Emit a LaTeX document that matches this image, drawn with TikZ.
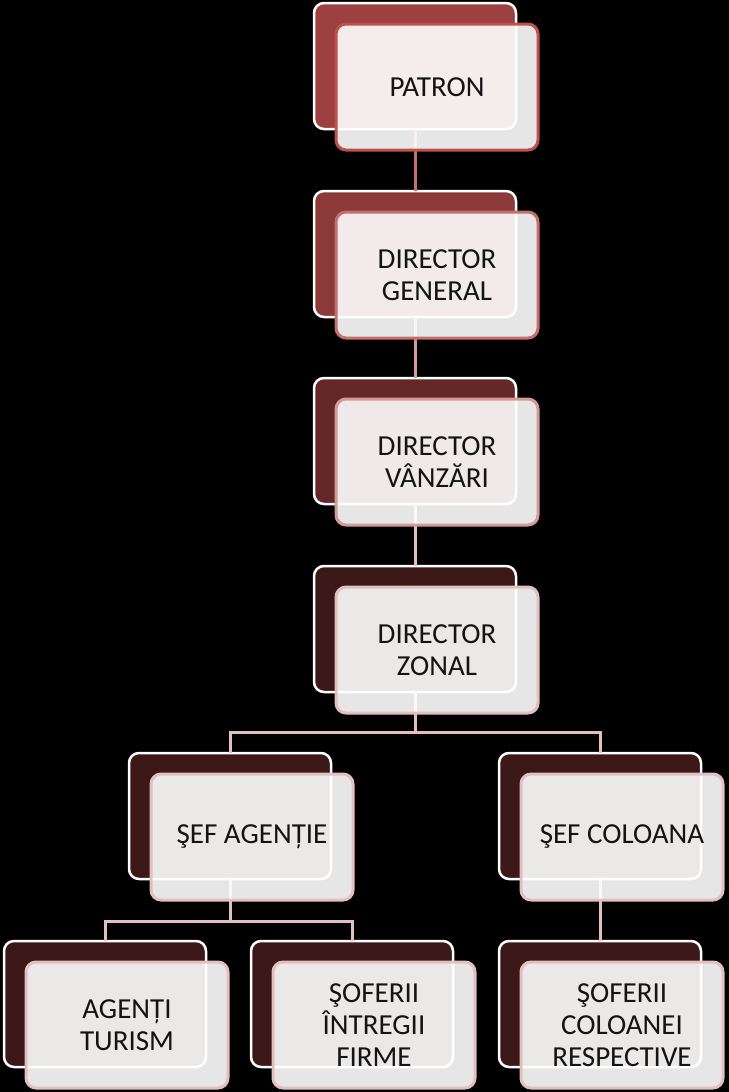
\documentclass[tikz,border=0pt]{standalone}
\usepackage{fontspec}
\setmainfont{Carlito}
\definecolor{backA}{HTML}{9C4140}
\definecolor{backB}{HTML}{8B3A39}
\definecolor{backC}{HTML}{632827}
\definecolor{backD}{HTML}{3C1819}
\definecolor{edgeA}{HTML}{C0504D}
\definecolor{edgeB}{HTML}{C66E6C}
\definecolor{edgeC}{HTML}{D49A98}
\definecolor{edgeD}{HTML}{E3C0BF}
\definecolor{textdark}{HTML}{141414}
\tikzset{
  backbox/.style={draw=white, line width=2.5pt, rounded corners=10pt, fill=#1,
    minimum width=202pt, minimum height=126pt, anchor=north west, outer sep=0pt},
  frontbox/.style={draw=#1, line width=3pt, rounded corners=10pt, fill=white,
    fill opacity=0.9, text opacity=1, text=textdark, align=center,
    minimum width=202pt, minimum height=126pt, anchor=north west, outer sep=0pt,
    font=\fontsize{29}{32}\selectfont},
  link/.style={line width=3pt, draw=#1}
}
\begin{document}
\begin{tikzpicture}[x=1pt, y=-1pt]
\path[use as bounding box] (0,0) rectangle (728,1092);
\fill[black] (-20,-20) rectangle (748,1112);

% Back boxes
\foreach \name/\x/\y/\col in {patron/314/3/backA, general/314/191/backB,
    vanzari/314/378/backC, zonal/314/566/backD, agentie/129/753/backD,
    coloana/499/753/backD, agenti/4/941/backD, firme/251/941/backD,
    respective/499/941/backD}
  \node[backbox=\col] (\name-b) at (\x,\y) {};

% Connectors
\draw[link=edgeB] (patron-b.south) -- (general-b.north);
\draw[link=edgeC] (general-b.south) -- (vanzari-b.north);
\draw[link=edgeD] (vanzari-b.south) -- (zonal-b.north);
\draw[link=edgeD] (zonal-b.south) -- ++(0,40) coordinate (zonal-bar) -| (agentie-b.north);
\draw[link=edgeD] (zonal-bar) -| (coloana-b.north);
\draw[link=edgeD] (agentie-b.south) -- ++(0,42) coordinate (agentie-bar) -| (agenti-b.north);
\draw[link=edgeD] (agentie-bar) -| (firme-b.north);
\draw[link=edgeD] (coloana-b.south) -- (respective-b.north);

% Front boxes
\foreach \name/\x/\y/\col/\label in {patron/336/24/edgeA/{PATRON},
    general/336/212/edgeB/{DIRECTOR\\GENERAL},
    vanzari/336/399/edgeC/{DIRECTOR\\VÂNZĂRI},
    zonal/336/587/edgeD/{DIRECTOR\\ZONAL},
    agentie/151/774/edgeD/{ŞEF AGENȚIE},
    coloana/521/774/edgeD/{ŞEF COLOANA},
    agenti/26/962/edgeD/{AGENȚI\\TURISM},
    firme/273/962/edgeD/{ŞOFERII\\ÎNTREGII\\FIRME},
    respective/521/962/edgeD/{ŞOFERII\\COLOANEI\\RESPECTIVE}}
  \node[frontbox=\col] (\name) at (\x,\y) {\label};
\end{tikzpicture}
\end{document}
